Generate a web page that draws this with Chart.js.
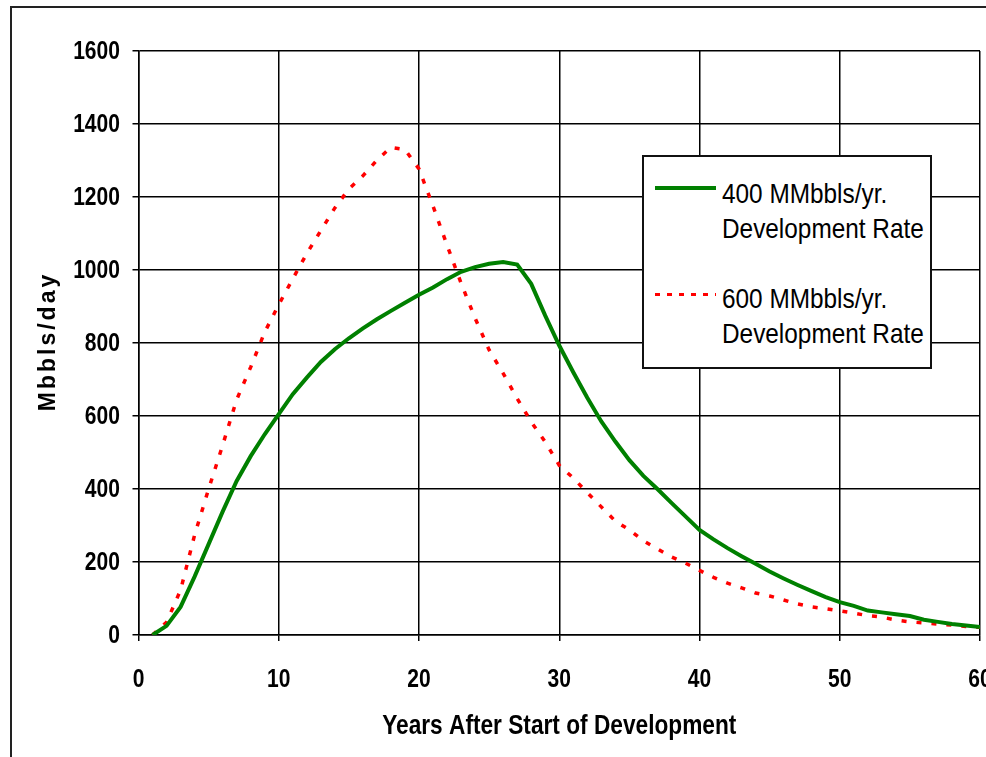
<!DOCTYPE html>
<html>
<head>
<meta charset="utf-8">
<script src="https://cdn.jsdelivr.net/npm/chart.js@4.4.1/dist/chart.umd.min.js"></script>
<style>
    html, body { margin: 0; padding: 0; background: #fff; overflow: hidden; width: 986px; height: 757px; }
    .frame { position: absolute; left: 10px; top: 6px; width: 1100px; height: 900px; border-left: 2px solid #222; border-top: 2px solid #222; }
    .chart-box { position: absolute; left: 0; top: 0; width: 1010px; height: 780px; }
    .legend { position: absolute; left: 642px; top: 155px; width: 290px; height: 214px; box-sizing: border-box;
              border: 2px solid #111; background: #fff; font-family: 'Liberation Sans', Arial, sans-serif;
              font-size: 28px; line-height: 35px; color: #000; }
    .legend .item { position: absolute; left: 0; width: 100%; }
    .legend .sample { position: absolute; left: 11px; width: 61px; }
    .legend .text { position: absolute; left: 78px; white-space: nowrap; transform: scaleX(0.87); transform-origin: left top; }
</style>
</head>
<body>
<div class="frame"></div>
<div class="chart-box"><canvas id="prod-chart"></canvas></div>
<div class="legend" id="legend"></div>

<script>
// --- dados ---
const years = [1, 2, 3, 4, 5, 6, 7, 8, 9, 10, 11, 12, 13, 14, 15, 16, 17, 18, 19, 20,
               21, 22, 23, 24, 25, 26, 27, 28, 29, 30, 31, 32, 33, 34, 35, 36, 37, 38, 39, 40,
               41, 42, 43, 44, 45, 46, 47, 48, 49, 50, 51, 52, 53, 54, 55, 56, 57, 58, 59, 60];

const rate400 = [0, 25, 77, 160, 249, 338, 422, 490, 550, 605, 660, 705, 748, 783, 813, 840, 865, 888, 910, 932,
                 952, 975, 995, 1008, 1017, 1022, 1015, 962, 875, 793, 720, 650, 585, 530, 479, 436, 400, 362, 325, 288,
                 262, 238, 216, 195, 174, 155, 137, 120, 104, 90, 80, 67, 62, 57, 52, 42, 36, 30, 26, 22];

const rate600 = [0, 35, 123, 274, 400, 520, 645, 734, 830, 905, 976, 1045, 1108, 1170, 1222, 1258, 1301, 1336, 1330, 1277,
                 1175, 1068, 964, 868, 781, 717, 648, 584, 529, 465, 430, 390, 351, 312, 288, 258, 236, 214, 197, 177,
                 158, 142, 129, 115, 107, 96, 85, 77, 72, 66, 60, 53, 49, 41, 36, 33, 30, 27, 23, 21];

const seriesNames = [
    ['400 MMbbls/yr.', 'Development Rate'],
    ['600 MMbbls/yr.', 'Development Rate']
];

const xTicks = [0, 10, 20, 30, 40, 50, 60];
const yTicks = [0, 200, 400, 600, 800, 1000, 1200, 1400, 1600];
const xTitle = 'Years After Start of Development';
const yTitle = 'Mbbls/day';

const fontFam = "'Liberation Sans', Arial, sans-serif";

function toPoints(vals) {
    return years.map((yr, i) => ({ x: yr, y: vals[i] }));
}

// texto estreito (o original usa uma fonte condensada)
function narrowText(ctx, txt, x, y, sx) {
    ctx.save();
    ctx.translate(x, y);
    ctx.scale(sx, 1);
    ctx.fillText(txt, 0, 0);
    ctx.restore();
}

const axisText = {
    id: 'axisText',
    afterDraw(chart) {
        const ctx = chart.ctx;
        const xs = chart.scales.x;
        const ys = chart.scales.y;
        const area = chart.chartArea;
        ctx.save();
        ctx.fillStyle = '#000';
        ctx.textBaseline = 'middle';
        ctx.font = 'bold 26px ' + fontFam;

        ctx.textAlign = 'right';
        ys.ticks.forEach(t => narrowText(ctx, String(t.value), area.left - 18.5, ys.getPixelForValue(t.value) + 1, 0.81));

        ctx.textAlign = 'center';
        xs.ticks.forEach(t => narrowText(ctx, String(t.value), xs.getPixelForValue(t.value), area.bottom + 45, 0.81));

        ctx.font = 'bold 27px ' + fontFam;
        narrowText(ctx, xTitle, (area.left + area.right) / 2, 727, 0.84);

        ctx.save();
        ctx.translate(49, (area.top + area.bottom) / 2);
        ctx.rotate(-Math.PI / 2);
        ctx.font = 'bold 23px ' + fontFam;
        ctx.letterSpacing = '3px';
        ctx.fillText(yTitle, 1.5, 0);
        ctx.restore();

        ctx.restore();
    }
};

const gridStyle = { color: '#000', lineWidth: 1.5, tickLength: 6, tickColor: '#000', tickWidth: 1.5 };

const chart = new Chart(document.getElementById('prod-chart'), {
    type: 'line',
    data: {
        datasets: [{
            label: seriesNames[0].join(' '),
            data: toPoints(rate400),
            borderColor: '#008000',
            borderWidth: 4,
            pointRadius: 0,
            tension: 0,
            fill: false
        }, {
            label: seriesNames[1].join(' '),
            data: toPoints(rate600),
            borderColor: '#ff0000',
            borderWidth: 3.5,
            borderDash: [5, 10],
            pointRadius: 0,
            tension: 0,
            fill: false
        }]
    },
    options: {
        responsive: true,
        maintainAspectRatio: false,
        animation: false,
        layout: { padding: { left: 0, top: 51, right: 30, bottom: 0 } },
        plugins: {
            legend: { display: false },
            tooltip: { enabled: false }
        },
        scales: {
            x: {
                type: 'linear',
                min: 0,
                max: 60,
                afterBuildTicks: (s) => { s.ticks = xTicks.map(v => ({ value: v })); },
                afterFit: (s) => { s.height = 145; },
                grid: gridStyle,
                border: { color: '#000', width: 1.5 },
                ticks: { display: false }
            },
            y: {
                min: 0,
                max: 1600,
                afterBuildTicks: (s) => { s.ticks = yTicks.map(v => ({ value: v })); },
                afterFit: (s) => { s.width = 138.5; },
                grid: gridStyle,
                border: { color: '#000', width: 1.5 },
                ticks: { display: false }
            }
        }
    },
    plugins: [axisText]
});

// legenda em HTML, montada a partir dos datasets
function buildLegend() {
    const box = document.getElementById('legend');
    const tops = [19, 124];
    chart.data.datasets.forEach((ds, i) => {
        const item = document.createElement('div');
        item.className = 'item';
        item.style.top = tops[i] + 'px';

        const sample = document.createElement('div');
        sample.className = 'sample';
        if (ds.borderDash) {
            sample.style.top = '12px';
            sample.style.height = '3px';
            sample.style.background = 'repeating-linear-gradient(90deg, ' + ds.borderColor + ' 0 5px, transparent 5px 12px)';
        } else {
            sample.style.top = '10px';
            sample.style.height = '4px';
            sample.style.background = ds.borderColor;
        }

        const text = document.createElement('div');
        text.className = 'text';
        text.innerHTML = seriesNames[i].join('<br>');

        item.appendChild(sample);
        item.appendChild(text);
        box.appendChild(item);
    });
}
buildLegend();
</script>
</body>
</html>
